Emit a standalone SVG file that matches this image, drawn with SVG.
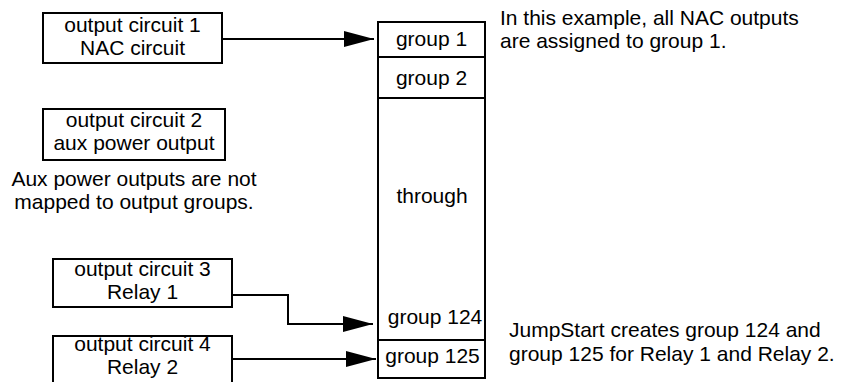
<svg xmlns="http://www.w3.org/2000/svg" width="841" height="382" viewBox="0 0 841 382">
<style>
  text { font-family: "Liberation Sans", Arial, sans-serif; font-size: 21px; fill: #000; }
  .c { text-anchor: middle; }
  .box { fill: #fff; stroke: #000; stroke-width: 2; }
  .line { fill: none; stroke: #000; stroke-width: 2; }
</style>
<defs>
  <marker id="arr" markerUnits="userSpaceOnUse" markerWidth="31" markerHeight="18" refX="30" refY="8" orient="auto">
    <path d="M0,0 L30,8 L0,16 Z" fill="#000"/>
  </marker>
</defs>
<rect width="841" height="382" fill="#fff"/>

<g id="out1">
  <rect class="box" x="43" y="13" width="179" height="50"/>
  <text class="c" x="132.5" y="32">output circuit 1</text>
  <text class="c" x="132.5" y="55">NAC circuit</text>
</g>
<g id="out2">
  <rect class="box" x="43" y="109" width="182" height="51"/>
  <text class="c" x="134" y="127">output circuit 2</text>
  <text class="c" x="134" y="150">aux power output</text>
</g>
<g id="note-aux">
  <text class="c" x="134" y="186">Aux power outputs are not</text>
  <text class="c" x="134" y="209">mapped to output groups.</text>
</g>
<g id="out3">
  <rect class="box" x="53" y="259" width="179" height="48"/>
  <text class="c" x="142.5" y="276">output circuit 3</text>
  <text class="c" x="142.5" y="299">Relay 1</text>
</g>
<g id="out4">
  <path class="line" d="M53,383 V336 H232 V383"/>
  <text class="c" x="142.5" y="351">output circuit 4</text>
  <text class="c" x="142.5" y="374">Relay 2</text>
</g>

<g id="groups">
  <rect class="box" x="378" y="22" width="107" height="356"/>
  <line class="line" x1="378" y1="57" x2="485" y2="57"/>
  <line class="line" x1="378" y1="98" x2="485" y2="98"/>
  <line class="line" x1="378" y1="340" x2="485" y2="340"/>
  <text class="c" x="431.5" y="46">group 1</text>
  <text class="c" x="431.5" y="85">group 2</text>
  <text class="c" x="432" y="203">through</text>
  <text class="c" x="435" y="324">group 124</text>
  <text class="c" x="432.5" y="363">group 125</text>
</g>

<g id="note-nac">
  <text x="500" y="25">In this example, all NAC outputs</text>
  <text x="500" y="48">are assigned to group 1.</text>
</g>
<g id="note-jump">
  <text x="509" y="337">JumpStart creates group 124 and</text>
  <text x="509" y="361">group 125 for Relay 1 and Relay 2.</text>
</g>

<g id="connectors">
  <path class="line" d="M222,39 H374" marker-end="url(#arr)"/>
  <path class="line" d="M232,295 H288 V324 H373" marker-end="url(#arr)"/>
  <path class="line" d="M232,359 H376" marker-end="url(#arr)"/>
</g>
</svg>
